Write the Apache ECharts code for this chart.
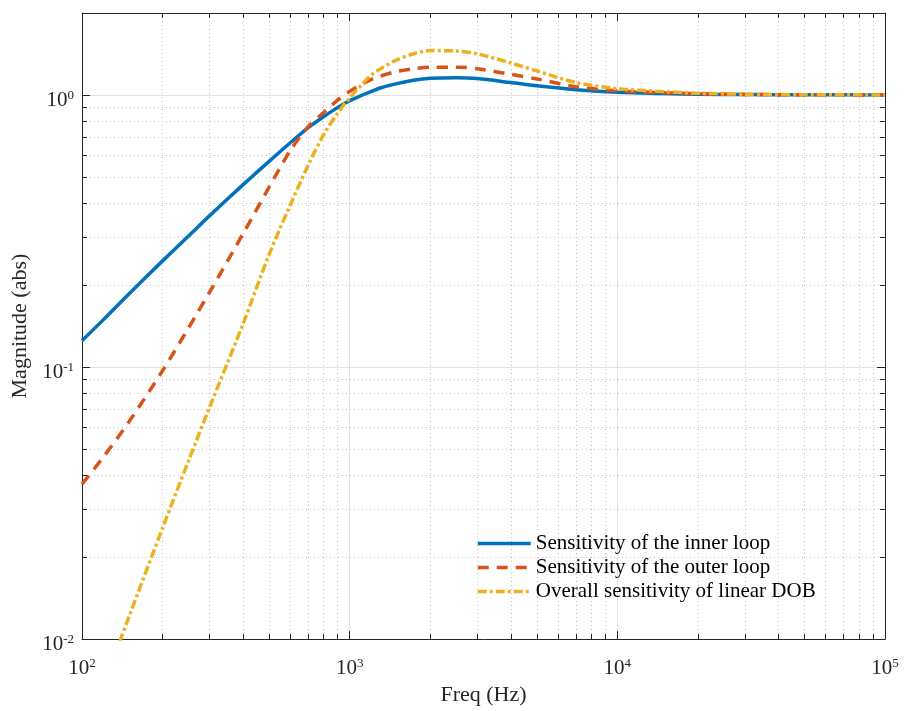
<!DOCTYPE html>
<html><head><meta charset="utf-8">
<script src="https://cdn.jsdelivr.net/npm/echarts@6/dist/echarts.min.js"></script>
<style>html,body{margin:0;padding:0;background:#fff}#c{width:904px;height:711px}</style>
</head><body><div id="c"></div>
<script>
const freq = [100,120,150,200,250,300,400,500,600,700,800,900,1000,1100,1200,1300,1500,1750,2000,2500,3000,4000,5000,7000,10000,15000,20000,30000,50000,100000];
const innerLoop = [0.125,0.149,0.186,0.2455,0.303,0.360,0.468,0.570,0.667,0.758,0.832,0.898,0.952,0.993,1.028,1.060,1.100,1.135,1.152,1.157,1.148,1.110,1.080,1.045,1.022,1.011,1.006,1.003,1.001,1.000];
const outerLoop = [0.0371,0.0466,0.0630,0.0970,0.1392,0.1887,0.3095,0.458,0.6245,0.765,0.862,0.955,1.030,1.090,1.138,1.172,1.220,1.250,1.265,1.265,1.248,1.190,1.145,1.072,1.036,1.018,1.010,1.004,1.001,1.000];
const overallDOB = [0.00414,0.0067,0.01212,0.0256,0.0452,0.0713,0.1444,0.259,0.394,0.552,0.715,0.855,0.975,1.080,1.180,1.245,1.345,1.420,1.455,1.450,1.415,1.310,1.225,1.110,1.055,1.028,1.015,1.006,1.002,1.000];
const seriesNames = ['Sensitivity of the inner loop','Sensitivity of the outer loop','Overall sensitivity of linear DOB'];
const xMajorTicks = [100,1000,10000,100000];
const xMinorTicks = [200,300,400,500,600,700,800,900,2000,3000,4000,5000,6000,7000,8000,9000,20000,30000,40000,50000,60000,70000,80000,90000];
const yMajorTicks = [0.01,0.1,1];
const yMinorTicks = [0.02,0.03,0.04,0.05,0.06,0.07,0.08,0.09,0.2,0.3,0.4,0.5,0.6,0.7,0.8,0.9];
const xLabel = 'Freq (Hz)';
const yLabel = 'Magnitude (abs)';

const FONT = 'Liberation Serif';
const AX = '#262626';
const rich = {
  b: {fontFamily: FONT, fontSize: 21, lineHeight: 22, color: AX, verticalAlign: 'bottom'},
  s: {fontFamily: FONT, fontSize: 13, lineHeight: 13, color: AX, verticalAlign: 'top'}
};
function powFmt(v) { const e = Math.round(Math.log10(v)); return '{b|10}{s|' + e + '}'; }

function mkAxis(pos, min, max, ticks, major, extra) {
  const a = {
    type: 'log', logBase: 10, position: pos, min: min, max: max, gridIndex: 0,
    axisLine: {show: major, lineStyle: {color: AX, width: 1}},
    axisTick: {show: true, inside: true, length: major ? 8 : 5, customValues: ticks, lineStyle: {color: AX, width: 1}},
    axisLabel: {show: false},
    splitLine: {show: false},
    minorTick: {show: false}, minorSplitLine: {show: false}
  };
  return Object.assign(a, extra || {});
}

const chart = echarts.init(document.getElementById('c'), null, {renderer: 'canvas'});
const mkData = arr => freq.map((f, i) => [f, arr[i]]);
const LW = 3.5;
chart.setOption({
  animation: false,
  backgroundColor: '#fff',
  grid: {left: 82, top: 13, right: 19, bottom: 64, containLabel: false},
  xAxis: [
    mkAxis('bottom', 100, 100000, xMajorTicks, true, {
      name: xLabel, nameLocation: 'middle', nameGap: 32,
      nameTextStyle: {fontFamily: FONT, fontSize: 22, color: AX},
      axisLabel: {show: true, customValues: xMajorTicks, formatter: powFmt, rich: rich, margin: 18},
      splitLine: {show: true, lineStyle: {color: '#e2e2e2', width: 1}}
    }),
    mkAxis('bottom', 100, 100000, xMinorTicks, false, {
      splitLine: {show: true, lineStyle: {color: '#c2c2c2', width: 1, type: [1, 3]}}
    }),
    mkAxis('top', 100, 100000, xMajorTicks, true),
    mkAxis('top', 100, 100000, xMinorTicks, false)
  ],
  yAxis: [
    mkAxis('left', 0.01, 2, yMajorTicks, true, {
      name: yLabel, nameLocation: 'middle', nameGap: 45,
      nameTextStyle: {fontFamily: FONT, fontSize: 22, color: AX},
      axisLabel: {show: true, customValues: yMajorTicks, formatter: powFmt, rich: rich, margin: 8, padding: [10, 0, 0, 0]},
      splitLine: {show: true, lineStyle: {color: '#e2e2e2', width: 1}}
    }),
    mkAxis('left', 0.01, 2, yMinorTicks, false, {
      splitLine: {show: true, lineStyle: {color: '#c2c2c2', width: 1, type: [1, 3]}}
    }),
    mkAxis('right', 0.01, 2, yMajorTicks, true),
    mkAxis('right', 0.01, 2, yMinorTicks, false)
  ],
  legend: {
    orient: 'vertical', left: 476, top: 533, padding: 0, itemWidth: 53, itemHeight: 14, itemGap: 3,
    textStyle: {fontFamily: FONT, fontSize: 21, color: '#000'},
    itemStyle: {opacity: 0},
    lineStyle: {width: LW},
    data: seriesNames
  },
  series: [
    {name: seriesNames[0], type: 'line', data: mkData(innerLoop), xAxisIndex: 0, yAxisIndex: 0,
     symbol: 'none', showSymbol: false, smooth: 0.3, clip: true,
     lineStyle: {color: '#0072BD', width: LW}, itemStyle: {color: '#0072BD'}},
    {name: seriesNames[1], type: 'line', data: mkData(outerLoop), xAxisIndex: 0, yAxisIndex: 0,
     symbol: 'none', showSymbol: false, smooth: 0.3, clip: true,
     lineStyle: {color: '#D95319', width: LW, type: [11, 8]}, itemStyle: {color: '#D95319'}},
    {name: seriesNames[2], type: 'line', data: mkData(overallDOB), xAxisIndex: 0, yAxisIndex: 0,
     symbol: 'none', showSymbol: false, smooth: 0.3, clip: true,
     lineStyle: {color: '#EDB120', width: LW, type: [9, 3, 3, 3]}, itemStyle: {color: '#EDB120'}}
  ]
});
</script></body></html>
